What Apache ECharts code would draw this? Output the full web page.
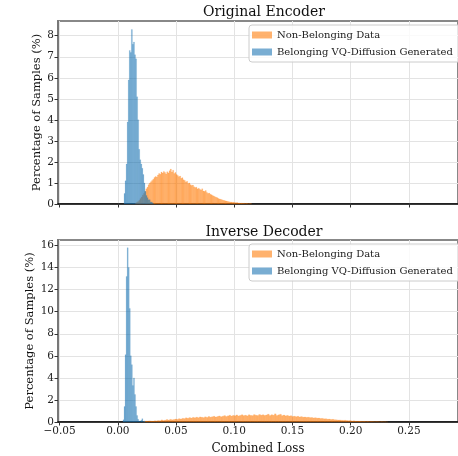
<!DOCTYPE html>
<html>
<head>
<meta charset="utf-8">
<script src="https://cdn.jsdelivr.net/npm/echarts@6/dist/echarts.min.js"></script>
<style>
  html, body { margin: 0; padding: 0; background: #fff; }
  #chart { width: 458px; height: 456px; }
</style>
</head>
<body>
<div id="chart"></div>
<script>
// 直方图数据（百分比），每组给出起点、箱宽和各箱高度
const seriesNames = ["Non-Belonging Data", "Belonging VQ-Diffusion Generated"];
const xTicks = [-0.05, 0, 0.05, 0.1, 0.15, 0.2, 0.25];
const topYTicks = [0, 1, 2, 3, 4, 5, 6, 7, 8];
const bottomYTicks = [0, 2, 4, 6, 8, 10, 12, 14, 16];

// Original Encoder - belonging (blue)
const encBlueStart = 0.0053;
const encBlueWidth = 0.0009;
const encBlue = [0.5, 1.1, 1.9, 3.9, 5.9, 7.3, 7.2, 8.3, 7.6, 7.7, 7.1, 6.9, 5.1, 4.0,
  2.6, 2.1, 1.9, 1.7, 1.4, 1.0, 0.6, 0.4, 0.3, 0.2, 0.2, 0.1, 0.1, 0.05];

// Original Encoder - non-belonging (orange)
const encOrangeStart = 0.015;
const encOrangeWidth = 0.001;
const encOrange = [0.04, 0.08, 0.12, 0.18, 0.26, 0.33, 0.42, 0.50, 0.61, 0.72,
  0.80, 0.92, 1.00, 1.06, 1.12, 1.18, 1.26, 1.31, 1.28, 1.38,
  1.45, 1.42, 1.52, 1.47, 1.55, 1.50, 1.43, 1.53, 1.48, 1.58,
  1.66, 1.52, 1.60, 1.45, 1.50, 1.40, 1.36, 1.30, 1.33, 1.22,
  1.25, 1.15, 1.12, 1.05, 1.08, 0.98, 1.00, 0.92, 0.88, 0.90,
  0.82, 0.78, 0.80, 0.72, 0.75, 0.70, 0.66, 0.72, 0.62, 0.60,
  0.64, 0.55, 0.50, 0.52, 0.46, 0.44, 0.40, 0.38, 0.34, 0.32,
  0.30, 0.26, 0.24, 0.22, 0.20, 0.18, 0.17, 0.15, 0.14, 0.12,
  0.11, 0.10, 0.09, 0.08, 0.08, 0.07, 0.06, 0.07, 0.05, 0.05,
  0.04, 0.05, 0.03, 0.04, 0.02, 0.03, 0.02, 0.01, 0.02, 0.01];

// Inverse Decoder - belonging (blue)
const decBlueStart = 0.0044;
const decBlueWidth = 0.0009;
const decBlue = [0.2, 1.4, 6.1, 13.2, 15.8, 14.0, 10.3, 6.0, 5.2, 3.3, 4.0, 2.5, 1.4,
  0.6, 0.25, 0.1, 0.05, 0.15, 0.3, 0.05, 0.1];

// Inverse Decoder - non-belonging (orange)
const decOrangeStart = 0.022;
const decOrangeWidth = 0.0015;
const decOrange = [0.06, 0.09, 0.08, 0.10, 0.09, 0.08, 0.11, 0.10, 0.13, 0.12,
  0.19, 0.14, 0.17, 0.22, 0.18, 0.24, 0.20, 0.23, 0.27, 0.24,
  0.30, 0.28, 0.33, 0.31, 0.38, 0.34, 0.40, 0.36, 0.42, 0.38,
  0.44, 0.39, 0.46, 0.43, 0.40, 0.47, 0.42, 0.50, 0.44, 0.48,
  0.52, 0.45, 0.50, 0.55, 0.48, 0.53, 0.58, 0.50, 0.56, 0.61,
  0.54, 0.60, 0.57, 0.64, 0.55, 0.60, 0.66, 0.58, 0.62, 0.56,
  0.65, 0.60, 0.58, 0.67, 0.61, 0.59, 0.68, 0.62, 0.66, 0.60,
  0.64, 0.71, 0.60, 0.66, 0.62, 0.74, 0.60, 0.65, 0.70, 0.58,
  0.63, 0.56, 0.60, 0.54, 0.57, 0.50, 0.53, 0.48, 0.51, 0.46,
  0.49, 0.44, 0.46, 0.42, 0.44, 0.40, 0.41, 0.37, 0.39, 0.35,
  0.36, 0.32, 0.33, 0.29, 0.30, 0.26, 0.27, 0.23, 0.24, 0.21,
  0.20, 0.18, 0.19, 0.16, 0.15, 0.16, 0.13, 0.12, 0.13, 0.10,
  0.11, 0.09, 0.08, 0.09, 0.07, 0.06, 0.07, 0.05, 0.06, 0.04,
  0.05, 0.04, 0.03, 0.04, 0.03, 0.02, 0.03, 0.02, 0.02, 0.01];

const ORANGE = "rgba(255,127,14,0.6)";
const BLUE = "rgba(31,119,180,0.6)";
const FONT = "DejaVu Serif";

// 把起点+箱宽+高度转换成 [x0, x1, y]
function toBins(start, width, values) {
  return values.map(function (v, i) {
    return [start + i * width, start + (i + 1) * width, v];
  });
}

function renderBar(params, api) {
  var p0 = api.coord([api.value(0), 0]);
  var p1 = api.coord([api.value(1), api.value(2)]);
  return {
    type: "rect",
    shape: { x: p0[0], y: p1[1], width: p1[0] - p0[0], height: p0[1] - p1[1] },
    style: { fill: api.visual("color"), stroke: api.visual("color"), lineWidth: 0.2 },
  };
}

function fmtX(v) {
  return v.toFixed(2).replace("-", "\u2212");
}

function xAxisCfg(gridIndex, showLabels) {
  return {
    type: "value",
    gridIndex: gridIndex,
    min: -0.0514,
    max: 0.2922,
    name: showLabels ? "Combined Loss" : "",
    nameLocation: "middle",
    nameGap: 21,
    nameTextStyle: { fontFamily: FONT, fontSize: 12, color: "#111" },
    axisLine: { show: true, onZero: false, lineStyle: { color: "#000", width: 1.5 } },
    axisTick: { show: true, length: 3.5, customValues: xTicks, lineStyle: { color: "#333" } },
    axisLabel: {
      show: showLabels,
      customValues: xTicks,
      formatter: fmtX,
      fontFamily: FONT,
      fontSize: 10.5,
      color: "#222",
      margin: 4,
    },
    splitLine: { show: true, lineStyle: { color: "#e3e3e3", width: 1 } },
  };
}

function yAxisCfg(gridIndex, max, ticks, gap) {
  return {
    type: "value",
    gridIndex: gridIndex,
    min: 0,
    max: max,
    name: "Percentage of Samples (%)",
    nameLocation: "middle",
    nameGap: gap,
    nameMoveOverlap: false,
    nameTextStyle: { fontFamily: FONT, fontSize: 11.5, color: "#111" },
    axisLine: { show: true, onZero: false, lineStyle: { color: "#777", width: 2 } },
    axisTick: { show: true, length: 3.5, customValues: ticks, lineStyle: { color: "#333" } },
    axisLabel: {
      customValues: ticks,
      fontFamily: FONT,
      fontSize: 10.5,
      color: "#222",
      margin: 4,
    },
    splitLine: { show: true, lineStyle: { color: "#e3e3e3", width: 1 } },
  };
}

function legendCfg(top) {
  return {
    data: seriesNames,
    orient: "vertical",
    left: 249,
    top: top,
    icon: "rect",
    itemWidth: 20,
    itemHeight: 7,
    itemGap: 7,
    padding: [5, 10, 5, 3],
    backgroundColor: "rgba(255,255,255,0.8)",
    borderColor: "#ccc",
    borderWidth: 1,
    borderRadius: 3,
    selectedMode: false,
    textStyle: { fontFamily: FONT, fontSize: 10, color: "#222" },
  };
}

var myChart = echarts.init(document.getElementById("chart"), null, { renderer: "canvas" });

var option = {
  animation: false,
  title: [
    { text: "Original Encoder", left: 259, top: 0, textAlign: "center",
      textStyle: { fontFamily: FONT, fontSize: 14, fontWeight: "normal", color: "#111" } },
    { text: "Inverse Decoder", left: 259, top: 220, textAlign: "center",
      textStyle: { fontFamily: FONT, fontSize: 14, fontWeight: "normal", color: "#111" } },
  ],
  legend: [legendCfg(25), legendCfg(244)],
  grid: [
    { left: 58, top: 21, width: 402, height: 183, show: true, borderColor: "#888", borderWidth: 2 },
    { left: 58, top: 240, width: 402, height: 183, show: true, borderColor: "#888", borderWidth: 2 },
  ],
  xAxis: [xAxisCfg(0, false), xAxisCfg(1, true)],
  yAxis: [yAxisCfg(0, 8.7, topYTicks, 15), yAxisCfg(1, 16.5, bottomYTicks, 22)],
  series: [
    { name: seriesNames[0], type: "custom", xAxisIndex: 0, yAxisIndex: 0, renderItem: renderBar,
      itemStyle: { color: ORANGE }, encode: { x: [0, 1], y: 2 },
      data: toBins(encOrangeStart, encOrangeWidth, encOrange) },
    { name: seriesNames[1], type: "custom", xAxisIndex: 0, yAxisIndex: 0, renderItem: renderBar,
      itemStyle: { color: BLUE }, encode: { x: [0, 1], y: 2 },
      data: toBins(encBlueStart, encBlueWidth, encBlue) },
    { name: seriesNames[0], type: "custom", xAxisIndex: 1, yAxisIndex: 1, renderItem: renderBar,
      itemStyle: { color: ORANGE }, encode: { x: [0, 1], y: 2 },
      data: toBins(decOrangeStart, decOrangeWidth, decOrange) },
    { name: seriesNames[1], type: "custom", xAxisIndex: 1, yAxisIndex: 1, renderItem: renderBar,
      itemStyle: { color: BLUE }, encode: { x: [0, 1], y: 2 },
      data: toBins(decBlueStart, decBlueWidth, decBlue) },
  ],
};

myChart.setOption(option);
window.addEventListener("resize", function () {
  myChart.resize();
});
</script>
</body>
</html>
